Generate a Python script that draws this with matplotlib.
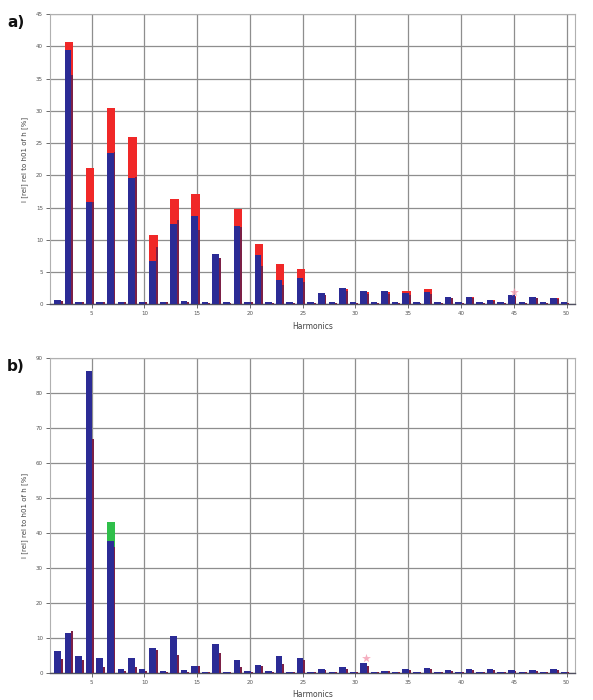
import matplotlib
matplotlib.use('Agg')
import matplotlib.pyplot as plt

harmonics = list(range(2, 51))

# panel a), harmonics 2..50
a_blue = [0.7, 39.4, 0.4, 15.9, 0.4, 23.5, 0.4, 19.5, 0.4, 6.7,
          0.4, 12.4, 0.5, 13.7, 0.3, 7.8, 0.3, 12.1, 0.4, 7.6,
          0.3, 3.8, 0.3, 4.0, 0.3, 1.7, 0.3, 2.6, 0.3, 2.0,
          0.3, 2.0, 0.3, 1.8, 0.3, 1.9, 0.3, 1.1, 0.3, 1.2,
          0.3, 0.7, 0.3, 1.4, 0.3, 1.1, 0.3, 1.0, 0.3]
a_red = [0, 40.6, 0, 21.2, 0, 30.4, 0, 25.9, 0, 10.8,
         0, 16.3, 0, 17.1, 0, 7.0, 0, 14.7, 0, 9.4,
         0, 6.2, 0, 5.5, 0, 1.5, 0, 2.4, 0, 1.9,
         0, 1.9, 0, 2.1, 0, 2.3, 0, 1.0, 0, 1.1,
         0, 0.6, 0, 1.3, 0, 1.0, 0, 0.9, 0]
a_strip = [0.5, 35.5, 0.3, 15.9, 0.3, 23.6, 0.3, 19.8, 0.3, 8.9,
           0.3, 13.0, 0.3, 11.5, 0.2, 7.1, 0.2, 12.0, 0.3, 6.0,
           0.2, 3.0, 0.2, 3.5, 0.2, 1.4, 0.2, 2.0, 0.2, 1.6,
           0.2, 1.6, 0.2, 1.5, 0.2, 1.6, 0.2, 0.9, 0.2, 1.0,
           0.2, 0.5, 0.2, 1.1, 0.2, 0.9, 0.2, 0.8, 0.2]
a_star = (45, 1.9)

# panel b)
b_blue = [6.2, 11.3, 4.8, 86.2, 4.3, 37.6, 1.0, 4.1, 1.0, 7.2,
          0.5, 10.6, 0.7, 1.9, 0.3, 8.2, 0.3, 3.6, 0.6, 2.2,
          0.4, 4.9, 0.3, 4.1, 0.3, 1.1, 0.3, 1.6, 0.3, 2.7,
          0.3, 0.5, 0.3, 1.1, 0.3, 1.3, 0.3, 0.8, 0.3, 1.1,
          0.3, 1.0, 0.3, 0.8, 0.3, 0.8, 0.3, 1.0, 0.3]
b_strip = [4.0, 12.0, 3.5, 66.9, 1.5, 36.0, 0.5, 1.5, 0.5, 6.5,
           0.3, 5.2, 0.3, 1.8, 0.2, 5.5, 0.2, 1.5, 0.3, 2.0,
           0.2, 2.5, 0.2, 3.5, 0.2, 0.8, 0.2, 1.2, 0.2, 2.0,
           0.2, 0.4, 0.2, 0.9, 0.2, 1.0, 0.2, 0.6, 0.2, 0.9,
           0.2, 0.8, 0.2, 0.6, 0.2, 0.6, 0.2, 0.8, 0.2]
b_green = [0, 0, 0, 0, 0, 43.2] + [0] * 43
b_star = (31, 4.1)

BLUE = '#2b2b95'
RED = '#f02828'
MAROON = '#7c2046'
GREEN = '#2fbf4a'
GRID = '#8e8e8e'
YLABEL = 'I [rel] rel to h01 of h [%]'


def draw_panel(ax, wide, wide_color, strip, blue, star, ymax, ystep):
    left = [h - 0.55 for h in harmonics]
    ax.bar(left, wide, width=0.8, align='edge', color=wide_color,
           linewidth=0, zorder=3)
    ax.bar([h + 0.07 for h in harmonics], strip, width=0.18, align='edge',
           color=MAROON, linewidth=0, zorder=4)
    ax.bar(left, blue, width=0.62, align='edge', color=BLUE,
           linewidth=0, zorder=5)
    ax.scatter([star[0]], [star[1]], marker='*', s=45, color='#f39ab0',
               alpha=0.8, zorder=6, linewidths=0)

    ax.set_xlim(1.05, 50.8)
    ax.set_ylim(0, ymax)
    ax.set_xticks(range(5, 51, 5))
    ax.set_yticks(range(0, ymax + 1, ystep))
    ax.grid(True, color=GRID, linewidth=0.9, zorder=1)
    ax.set_axisbelow(True)
    for side in ['top', 'right', 'left']:
        ax.spines[side].set_color('#b0b0b0')
        ax.spines[side].set_linewidth(0.8)
    ax.spines['bottom'].set_color('#505060')
    ax.spines['bottom'].set_linewidth(1.0)
    ax.tick_params(axis='both', labelsize=4, colors='#555555',
                   length=3, width=0.6, pad=2)
    ax.set_xlabel('Harmonics', fontsize=5.5, color='#444444', labelpad=4)
    ax.set_ylabel(YLABEL, fontsize=5, color='#444444', labelpad=6)


fig = plt.figure(figsize=(5.93, 7.00), dpi=100)

ax_a = fig.add_axes([0.0843, 0.5653, 0.8853, 0.4147])
draw_panel(ax_a, a_red, RED, a_strip, a_blue, a_star, 45, 5)

ax_b = fig.add_axes([0.0843, 0.0390, 0.8853, 0.4496])
draw_panel(ax_b, b_green, GREEN, b_strip, b_blue, b_star, 90, 10)

fig.text(0.012, 0.962, 'a)', fontsize=11, fontweight='bold', color='#111111')
fig.text(0.012, 0.470, 'b)', fontsize=11, fontweight='bold', color='#111111')

fig.savefig('out.png', dpi=100)
